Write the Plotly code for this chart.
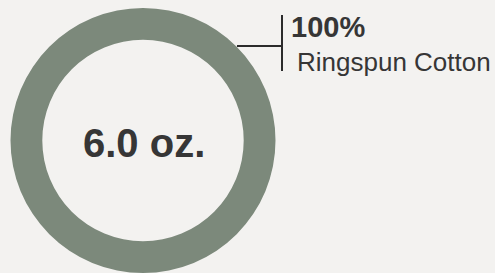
import plotly.graph_objects as go

# Data
labels = ["Ringspun Cotton"]
values = [100]
center_label = "6.0 oz."
pct_label = "100%"
material_label = "Ringspun Cotton"

W, H = 495, 273
ring_color = "#7c897b"
text_color = "#363636"
line_color = "#2b2b2b"
bg = "#f3f2f0"

fig = go.Figure(
    go.Pie(
        labels=labels,
        values=values,
        hole=0.76,
        sort=False,
        direction="clockwise",
        marker=dict(colors=[ring_color], line=dict(width=0)),
        textinfo="none",
        hoverinfo="label+percent",
        showlegend=False,
        domain=dict(x=[10.5 / W, 275.5 / W], y=[0, 1 - 8 / H]),
    )
)

def px(x):
    return x / W

def py(y):
    return 1 - y / H

fig.add_annotation(
    text=f"<b>{center_label}</b>", x=px(144), y=py(143), xref="paper", yref="paper",
    xanchor="center", yanchor="middle", showarrow=False,
    font=dict(family="Liberation Sans, Arial, sans-serif", size=40, color=text_color),
)
fig.add_annotation(
    text=f"<b>{pct_label}</b>", x=px(289), y=py(27), xref="paper", yref="paper",
    xanchor="left", yanchor="middle", showarrow=False,
    font=dict(family="Liberation Sans, Arial, sans-serif", size=29, color=text_color),
)
fig.add_annotation(
    text=material_label, x=px(295), y=py(62), xref="paper", yref="paper",
    xanchor="left", yanchor="middle", showarrow=False,
    font=dict(family="Liberation Sans, Arial, sans-serif", size=26, color=text_color),
)

# connector
fig.add_shape(type="line", xref="paper", yref="paper",
              x0=px(237), x1=px(282), y0=py(46), y1=py(46),
              line=dict(color=line_color, width=2))
fig.add_shape(type="line", xref="paper", yref="paper",
              x0=px(282), x1=px(282), y0=py(15), y1=py(71),
              line=dict(color=line_color, width=2))

fig.update_layout(
    width=W, height=H,
    margin=dict(l=0, r=0, t=0, b=0),
    paper_bgcolor=bg, plot_bgcolor=bg,
)

fig.write_html(
    "out.html",
    config={"displayModeBar": False},
    post_script="document.body.style.margin='0';document.body.style.overflow='hidden';document.body.style.background='" + bg + "';",
)
